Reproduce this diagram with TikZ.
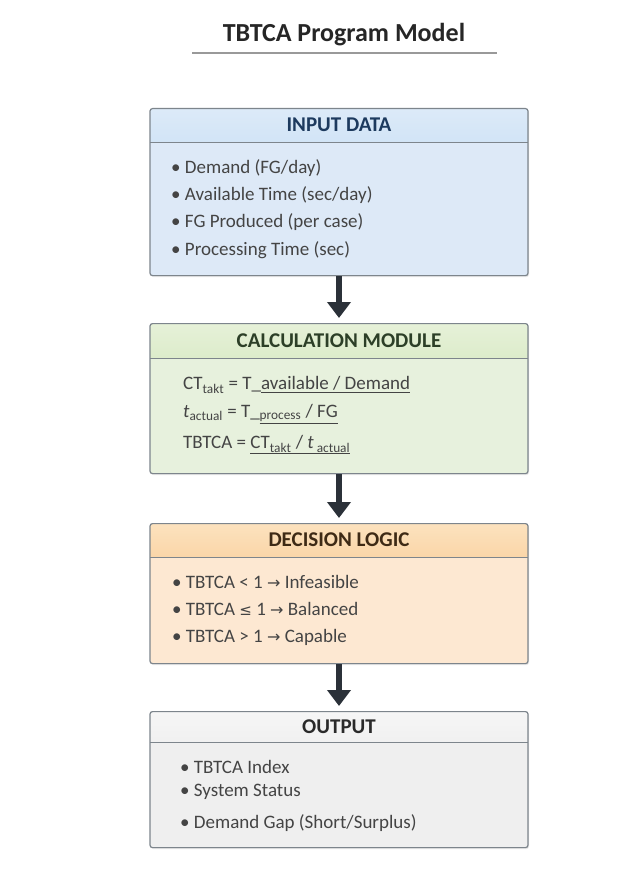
\documentclass[tikz,border=0pt]{standalone}
\usepackage{fontspec}
\setmainfont{Carlito}
\newfontfamily\symfont{DejaVu Sans}
\usetikzlibrary{arrows.meta,shadows}

\definecolor{bordercol}{HTML}{7D858C}
\definecolor{inhdrtop}{HTML}{DCEAF8}
\definecolor{inhdrbot}{HTML}{A9CDF0}
\definecolor{inbody}{HTML}{DDE9F7}
\definecolor{intext}{HTML}{1D3A5E}
\definecolor{cahdrtop}{HTML}{E6F1D8}
\definecolor{cahdrbot}{HTML}{BCDB9E}
\definecolor{cabody}{HTML}{E7F1DD}
\definecolor{catext}{HTML}{2C3F27}
\definecolor{dehdrtop}{HTML}{FCE2BE}
\definecolor{dehdrbot}{HTML}{F4AE63}
\definecolor{debody}{HTML}{FDE8D2}
\definecolor{detext}{HTML}{3E2A15}
\definecolor{ouhdrtop}{HTML}{F6F6F6}
\definecolor{ouhdrbot}{HTML}{DDDDDD}
\definecolor{oubody}{HTML}{EFEFEF}
\definecolor{outext}{HTML}{2A2A2A}
\definecolor{bodytext}{HTML}{444444}
\definecolor{arrowcol}{HTML}{2B3139}

\begin{document}
\begin{tikzpicture}[x=1pt,y=-1pt,
  modbox/.style={draw=bordercol, line width=1.2pt, rounded corners=2.5pt,
    minimum width=378pt, anchor=north, inner sep=0pt,
    drop shadow={opacity=0.18, shadow xshift=1pt, shadow yshift=-1.5pt}},
  hdr/.style n args={3}{path picture={
    \shade[top color=#1, bottom color=#2]
      (path picture bounding box.north west) rectangle
      ([yshift=-#3]path picture bounding box.north east);
    \draw[bordercol, line width=1.1pt]
      ([yshift=-#3]path picture bounding box.north west) --
      ([yshift=-#3]path picture bounding box.north east);}},
  hdrtext/.style={font=\fontsize{21}{24}\selectfont\bfseries, anchor=center},
  item/.style={font=\fontsize{19}{22}\selectfont, text=bodytext, anchor=west, inner sep=0pt},
  flowarrow/.style={draw=arrowcol, line width=6.5pt,
    -{Triangle[width=23pt,length=16pt]}, shorten >=5pt}
]
\useasboundingbox (0,0) rectangle (618,890);
\fill[white] (0,0) rectangle (618,890);

% title
\node[font=\fontsize{26}{30}\selectfont\bfseries, text=black!85] (title) at (344,35) {TBTCA Program Model};
\coordinate (ulA) at (192,53);
\coordinate (ulB) at (497,53);
\draw[gray!80, line width=1.3pt] (ulA) -- (ulB);

% boxes
\node[modbox, fill=inbody, minimum height=167pt, hdr={inhdrtop}{inhdrbot}{34pt}] (input) at (339,108) {};
\node[modbox, fill=cabody, minimum height=150pt, hdr={cahdrtop}{cahdrbot}{35pt}] (calc) at (339,323) {};
\node[modbox, fill=debody, minimum height=140pt, hdr={dehdrtop}{dehdrbot}{34pt}] (decide) at (339,523) {};
\node[modbox, fill=oubody, minimum height=136pt, hdr={ouhdrtop}{ouhdrbot}{31pt}] (output) at (339,711) {};

% headers
\node[hdrtext, text=intext] (inputT) at (339,125) {INPUT DATA};
\node[hdrtext, text=catext] (calcT) at (339,341) {CALCULATION MODULE};
\node[hdrtext, text=detext] (decideT) at (339,540) {DECISION LOGIC};
\node[hdrtext, text=outext] (outputT) at (339,727) {OUTPUT};

% input items
\node[item] (in1) at (171,168) {• Demand (FG/day)};
\node[item] (in2) at (171,195) {• Available Time (sec/day)};
\node[item] (in3) at (171,222) {• FG Produced (per case)};
\node[item] (in4) at (171,250) {• Processing Time (sec)};

% calc items
\node[item] (ca1) at (183,385) {CT\textsubscript{takt} = T\_\underline{available / Demand}};
\node[item] (ca2) at (183,414) {\textit{t}\textsubscript{actual} = T\_\underline{\textsubscript{process} / FG}};
\node[item] (ca3) at (183,445) {TBTCA = \underline{CT\textsubscript{takt} / \textit{t}\textsubscript{ actual}}};

% decision items
\node[item] (de1) at (172,582) {• TBTCA < 1 {\symfont\fontsize{16}{18}\selectfont →} Infeasible};
\node[item] (de2) at (172,609) {• TBTCA {\symfont\fontsize{15}{18}\selectfont ≤} 1 {\symfont\fontsize{16}{18}\selectfont →} Balanced};
\node[item] (de3) at (172,637) {• TBTCA > 1 {\symfont\fontsize{16}{18}\selectfont →} Capable};

% output items
\node[item] (ou1) at (180,767) {• TBTCA Index};
\node[item] (ou2) at (180,792) {• System Status};
\node[item] (ou3) at (180,823) {• Demand Gap (Short/Surplus)};

% arrows
\draw[flowarrow] (input.south) -- (calc.north);
\draw[flowarrow] (calc.south) -- (decide.north);
\draw[flowarrow] (decide.south) -- (output.north);
\end{tikzpicture}
\end{document}
